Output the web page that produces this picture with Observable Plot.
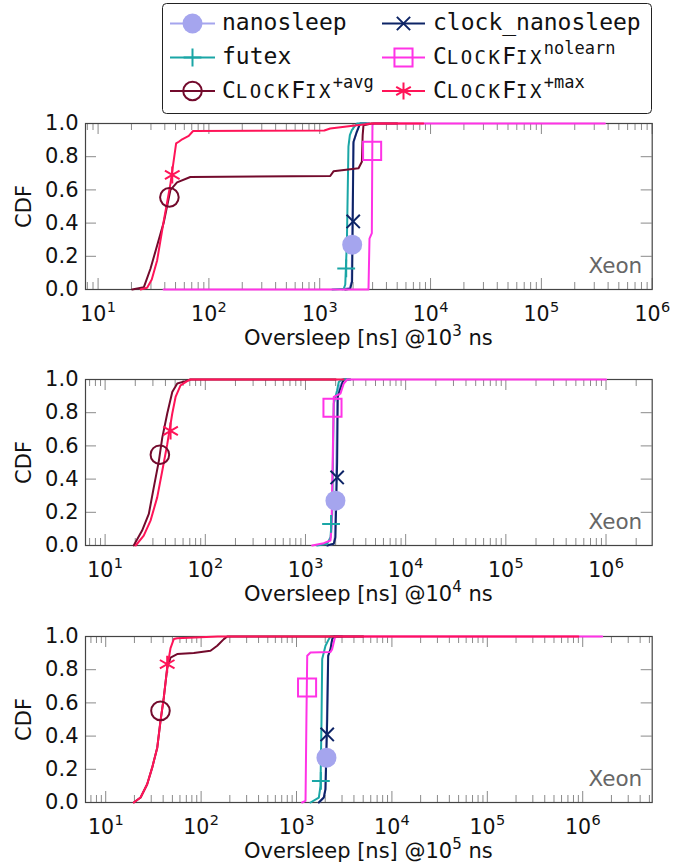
<!DOCTYPE html>
<html><head><meta charset="utf-8">
<script src="https://cdn.jsdelivr.net/npm/d3@7"></script>
<script src="https://cdn.jsdelivr.net/npm/@observablehq/plot@0.6"></script>
<style>
body{margin:0;background:#fff}
#root{position:relative;width:686px;height:863px;overflow:hidden;background:#fff}
#root > svg{position:absolute;left:0}
</style></head><body><div id="root"></div>
<script>
// ---------- series ----------
const seriesNames = ["nanosleep","clock_nanosleep","futex","nolearn","+avg","+max"];
const yTicks = [0, 0.2, 0.4, 0.6, 0.8, 1.0];
const xTickExps = [1, 2, 3, 4, 5, 6];
const panelSleepExps = ["3", "4", "5"];
const panelDomains = [[7.7, 1e6], [6.37, 2.89e6], [6.14, 5.35e6]];

// ---------- data: [oversleep ns, CDF] ----------
// sleep @10^3 ns
const at1e3_nanosleep = [[1600,0],[1870,0.01],[1940,0.05],[1980,0.5],[2010,0.88],[2150,0.95],[2300,1],[2600,1]];
const at1e3_clock = [[1700,0],[1884,0.005],[1960,0.05],[1990,0.5],[2017,0.89],[2163,0.95],[2318,1],[2800,1]];
const at1e3_futex = [[1300,0],[1650,0.005],[1700,0.03],[1760,0.3],[1816,0.86],[1870,0.93],[1949,0.96],[2163,1],[2600,1]];
const at1e3_nolearn = [[39,0],[2754,0],[2812,0.306],[2953,0.34],[2990,0.99],[3050,1],[374000,1]];
const at1e3_avg = [[20.3,0],[25.9,0.014],[29.7,0.125],[34.1,0.265],[39.2,0.406],[45,0.6],[51.6,0.645],[68,0.678],[1244,0.684],[1331,0.712],[2240,0.73],[2400,0.77],[2440,0.93],[2483,0.99],[2950,1],[5000,1]];
const at1e3_max = [[24.2,0],[27.7,0.01],[30.5,0.06],[34.1,0.175],[39.2,0.416],[45,0.638],[50.6,0.88],[53.5,0.89],[57.4,0.905],[65.8,0.925],[72,0.955],[1100,0.958],[1244,0.97],[2163,0.99],[2950,1],[8600,1]];
const at1e3_markers = [[1963,0.27],[2005,0.41],[1733,0.127],[2970,0.835],[44,0.555],[46.7,0.69]];

// sleep @10^4 ns
const at1e4_nanosleep = [[1648,0],[1916,0.01],[1960,0.05],[2030,0.5],[2080,0.9],[2200,0.96],[2400,1],[2700,1]];
const at1e4_clock = [[1648,0],[1916,0.01],[1991,0.05],[2070,0.5],[2100,0.895],[2198,0.935],[2323,0.976],[2411,1],[2800,1]];
const at1e4_futex = [[1309,0],[1648,0.01],[1777,0.05],[1847,0.19],[1916,0.855],[2070,0.935],[2149,0.985],[2323,1],[2600,1]];
const at1e4_nolearn = [[1166,0],[1523,0.014],[1777,0.03],[1818,0.1],[1916,0.895],[2233,0.915],[2411,0.976],[2606,1],[1000000,1]];
const at1e4_avg = [[19.3,0],[23.4,0.09],[27.3,0.19],[30.6,0.35],[34.4,0.51],[37.2,0.65],[41.7,0.795],[46.8,0.925],[52.5,0.976],[63.4,0.99],[71,1],[2000,1]];
const at1e4_max = [[20.2,0],[24.3,0.06],[28.4,0.15],[33.1,0.29],[37.2,0.45],[41.7,0.61],[46.8,0.795],[50.5,0.895],[56.6,0.965],[65.9,0.99],[71,1],[2400,1]];
const at1e4_markers = [[1991,0.27],[2070,0.41],[1800,0.13],[1860,0.83],[35.2,0.547],[45,0.69]];

// sleep @10^5 ns
const at1e5_nanosleep = [[1714,0],[1932,0.03],[2000,0.08],[2080,0.5],[2140,0.88],[2271,0.924],[2366,0.984],[2461,1],[2800,1]];
const at1e5_clock = [[1714,0],[1932,0.03],[2013,0.08],[2098,0.5],[2148,0.884],[2271,0.924],[2366,0.984],[2461,1],[3000,1]];
const at1e5_futex = [[1402,0],[1714,0.03],[1785,0.1],[1829,0.5],[1859,0.864],[2013,0.944],[2182,0.984],[2271,1],[2600,1]];
const at1e5_nolearn = [[1147,0],[1243,0.01],[1270,0.5],[1295,0.884],[1402,0.904],[2271,0.907],[2366,0.924],[2501,0.984],[2563,1],[1600000,1]];
const at1e5_avg = [[19.7,0],[23.2,0.03],[27.2,0.11],[30.7,0.21],[34.7,0.33],[37.5,0.49],[40.6,0.63],[44.1,0.81],[47.8,0.873],[56.1,0.894],[83.8,0.9],[125.5,0.914],[147.6,0.944],[173,0.984],[188,1],[5000,1]];
const at1e5_max = [[19.7,0],[23.2,0.03],[27.2,0.11],[30.7,0.21],[34.7,0.33],[37.5,0.49],[40.6,0.63],[44.1,0.81],[47.8,0.93],[51.8,0.985],[56.1,0.99],[150,1],[900000,1]];
const at1e5_markers = [[2060,0.27],[2098,0.41],[1800,0.13],[1290,0.693],[37.5,0.552],[44.1,0.833]];

// ---------- styles ----------
const seriesColors = ["#a5a5ee","#0d2466","#1aa6a6","#ff33e6","#730a2c","#ff1458"];
const seriesSymbols = ["circle","times","plus","square","circle","asterisk"];
const seriesR = [10, 6.1, 5.8, 10.2, 9.3, 8];
const seriesFilled = [true,false,false,false,false,false];

const panels = [
  {series:[at1e3_nanosleep,at1e3_clock,at1e3_futex,at1e3_nolearn,at1e3_avg,at1e3_max], markers: at1e3_markers, top:115, mt:8},
  {series:[at1e4_nanosleep,at1e4_clock,at1e4_futex,at1e4_nolearn,at1e4_avg,at1e4_max], markers: at1e4_markers, top:371, mt:8},
  {series:[at1e5_nanosleep,at1e5_clock,at1e5_futex,at1e5_nolearn,at1e5_avg,at1e5_max], markers: at1e5_markers, top:627, mt:9}
];

const root = document.getElementById("root");
const FONT = "DejaVu Sans";
const ML = 85, MR = 34.3, W = 686, FH = 166, MB = 62;
const FW = W - ML - MR;

panels.forEach((p, pi) => {
  const [lo, hi] = panelDomains[pi];
  const majors = xTickExps.map(e => Math.pow(10, e)).filter(v => v >= lo && v <= hi);
  const minors = [];
  for (let e = 0; e <= 7; e++) for (let m = 2; m <= 9; m++) {
    const v = m * Math.pow(10, e);
    if (v > lo && v < hi) minors.push(v);
  }
  const tickStroke = "#8a8a8a";
  const marks = [
    Plot.tickX(majors, {x: d => d, stroke: tickStroke, strokeWidth: 1, insetTop: FH - 11}),
    Plot.tickX(majors, {x: d => d, stroke: tickStroke, strokeWidth: 1, insetBottom: FH - 11}),
    Plot.tickX(minors, {x: d => d, stroke: tickStroke, strokeWidth: 1, insetTop: FH - 7}),
    Plot.tickX(minors, {x: d => d, stroke: tickStroke, strokeWidth: 1, insetBottom: FH - 7}),
    Plot.tickY(yTicks, {y: d => d, stroke: tickStroke, strokeWidth: 1, insetRight: FW - 11}),
    Plot.tickY(yTicks, {y: d => d, stroke: tickStroke, strokeWidth: 1, insetLeft: FW - 11}),
    Plot.frame({stroke: "#444", strokeWidth: 1.2}),
    // x tick labels 10^k
    Plot.text(majors, {x: d => d, text: () => "10", frameAnchor: "bottom", dy: 31, dx: 8.3, textAnchor: "end", lineAnchor: "bottom", fontSize: 20.5, fill: "#111"}),
    Plot.text(majors, {x: d => d, text: d => String(Math.round(Math.log10(d))), frameAnchor: "bottom", dy: 22, dx: 8.7, textAnchor: "start", lineAnchor: "bottom", fontSize: 14.5, fill: "#111"}),
    // y tick labels
    Plot.text(yTicks, {y: d => d, text: d => d.toFixed(1), frameAnchor: "left", dx: -7, textAnchor: "end", lineAnchor: "middle", fontSize: 21, fill: "#111"}),
    Plot.text(["CDF"], {frameAnchor: "left", dx: -61, rotate: -90, textAnchor: "middle", lineAnchor: "middle", fontSize: 21, fill: "#111"}),
    Plot.text(["Xeon"], {frameAnchor: "bottom-right", dx: -10, dy: -17, textAnchor: "end", lineAnchor: "bottom", fontSize: 21.5, fill: "#666"})
  ];
  p.series.forEach((s, si) => {
    marks.push(Plot.line(s, {x: d => d[0], y: d => d[1], stroke: seriesColors[si], strokeWidth: 2, strokeLinejoin: "round"}));
  });
  p.markers.forEach((m, si) => {
    marks.push(Plot.dot([m], {x: d => d[0], y: d => d[1], symbol: seriesSymbols[si], r: seriesR[si],
      fill: seriesFilled[si] ? seriesColors[si] : "none",
      stroke: seriesFilled[si] ? "none" : seriesColors[si], strokeWidth: 2}));
  });
  const H = p.mt + FH + MB;
  const svg = Plot.plot({
    width: W, height: H, marginLeft: ML, marginRight: MR, marginTop: p.mt, marginBottom: MB,
    x: {type: "log", domain: [lo, hi], axis: null},
    y: {domain: [0, 1], axis: null},
    style: {fontFamily: FONT, background: "transparent", overflow: "visible"},
    marks
  });
  svg.style.top = p.top + "px";
  const lab = d3.select(svg).append("text")
    .attr("x", ML + FW / 2).attr("y", p.mt + FH + 55.5)
    .attr("text-anchor", "middle").attr("font-family", FONT).attr("font-size", 21).attr("fill", "#111");
  lab.append("tspan").text("Oversleep [ns] @10");
  lab.append("tspan").attr("dy", -9).attr("font-size", 15).text(panelSleepExps[pi]);
  lab.append("tspan").attr("dy", 9).text(" ns");
  root.appendChild(svg);
});

// ---------- legend ----------
const MONO = "DejaVu Sans Mono";
const leg = d3.select(root).append("svg").attr("width", W).attr("height", 118)
  .style("position", "absolute").style("top", "0px").style("left", "0px");
leg.append("rect").attr("x", 162.5).attr("y", 3.5).attr("width", 489).attr("height", 110)
  .attr("rx", 4).attr("fill", "white").attr("stroke", "#222").attr("stroke-width", 1);
const rowsY = [23.5, 57.5, 91];
const colX = [[170, 215, 222], [382, 425, 433]];
const symMap = {circle: d3.symbolCircle, times: d3.symbolTimes, plus: d3.symbolPlus, square: d3.symbolSquare, asterisk: d3.symbolAsterisk};
seriesNames.forEach((name, i) => {
  const row = Math.floor(i / 2), col = i % 2;
  const y = rowsY[row], [x1, x2, tx] = colX[col];
  const g = leg.append("g");
  g.append("line").attr("x1", x1).attr("x2", x2).attr("y1", y).attr("y2", y)
    .attr("stroke", seriesColors[i]).attr("stroke-width", 2);
  const r = seriesR[i];
  g.append("path").attr("transform", `translate(${(x1 + x2) / 2},${y})`)
    .attr("d", d3.symbol(symMap[seriesSymbols[i]], Math.PI * r * r)())
    .attr("fill", seriesFilled[i] ? seriesColors[i] : "none")
    .attr("stroke", seriesFilled[i] ? "none" : seriesColors[i]).attr("stroke-width", 2);
  const t = g.append("text").attr("x", tx).attr("y", y + 6.5).attr("font-family", MONO).attr("font-size", 23).attr("fill", "#111");
  if (i < 3) {
    t.text(name);
  } else {
    const sc = (s) => t.append("tspan").attr("font-size", 19).attr("letter-spacing", 2.4).text(s);
    t.append("tspan").text("C"); sc("LOCK");
    t.append("tspan").text("F"); sc("IX");
    t.append("tspan").attr("font-size", 17).attr("dy", -10).text(name);
  }
});
</script></body></html>
